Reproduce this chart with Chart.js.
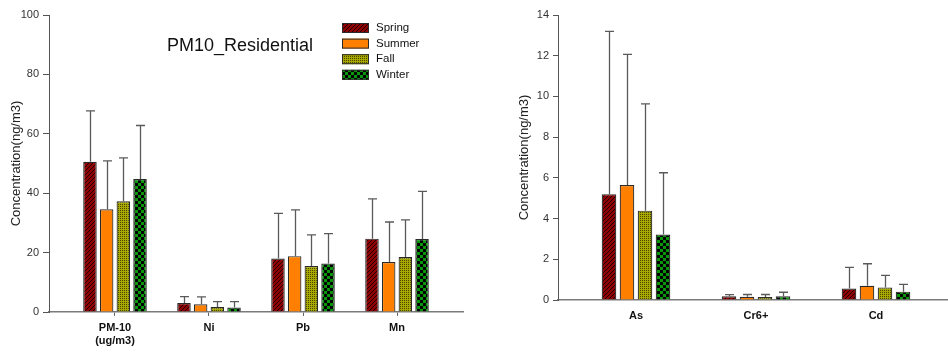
<!DOCTYPE html>
<html><head><meta charset="utf-8">
<script src="https://cdn.jsdelivr.net/npm/chart.js@4/dist/chart.umd.min.js"></script>
<style>
html,body{margin:0;padding:0;background:#fff;}
#wrap{position:relative;width:948px;height:352px;overflow:hidden;background:#fff;}
#c1box{position:absolute;left:0;top:0;width:480px;height:352px;}
#c2box{position:absolute;left:480px;top:0;width:468px;height:352px;}
</style></head><body>
<div id="wrap"><div id="c1box"><canvas id="c1" width="480" height="352"></canvas></div><div id="c2box"><canvas id="c2" width="468" height="352"></canvas></div></div>
<script>
// ---- data ----
const seasons = ['Spring', 'Summer', 'Fall', 'Winter'];

const pmCategories = ['PM-10\n(ug/m3)', 'Ni', 'Pb', 'Mn'];
const pmSpring   = [50.6, 3.0, 18.0, 24.7];
const pmSummer   = [34.6, 2.6, 18.8, 16.8];
const pmFall     = [37.3, 1.7, 15.5, 18.5];
const pmWinter   = [44.8, 1.5, 16.3, 24.6];
const pmSpringSD = [17.1, 2.2, 15.2, 13.4];
const pmSummerSD = [16.3, 2.5, 15.6, 13.5];
const pmFallSD   = [14.6, 1.8, 10.5, 12.5];
const pmWinterSD = [18.0, 2.0, 10.1, 16.0];
const pmYTicks   = [0, 20, 40, 60, 80, 100];

const trCategories = ['As', 'Cr6+', 'Cd'];
const trSpring   = [5.20, 0.18, 0.56];
const trSummer   = [5.65, 0.16, 0.70];
const trFall     = [4.39, 0.15, 0.62];
const trWinter   = [3.22, 0.18, 0.41];
const trSpringSD = [8.00, 0.08, 1.04];
const trSummerSD = [6.42, 0.11, 1.08];
const trFallSD   = [5.24, 0.12, 0.59];
const trWinterSD = [3.03, 0.20, 0.36];
const trYTicks   = [0, 2, 4, 6, 8, 10, 12, 14];

const chartTitle = 'PM10_Residential';
const yTitle = 'Concentration(ng/m3)';

// ---- styles ----
const FONT = '"Liberation Sans", Arial, sans-serif';
Chart.defaults.font.family = FONT;

function makePattern(w, h, draw) {
  const c = document.createElement('canvas');
  c.width = w; c.height = h;
  const g = c.getContext('2d');
  draw(g);
  return g.createPattern(c, 'repeat');
}
const fills = [
  makePattern(4, 4, g => { g.fillStyle = '#8e0404'; g.fillRect(0,0,4,4); g.fillStyle = '#220000'; for (let i=0;i<4;i++) g.fillRect(i, 3-i, 1, 1); }),
  '#ff8000',
  makePattern(2, 2, g => { g.fillStyle = '#a8a800'; g.fillRect(0,0,2,2); g.fillStyle = '#484800'; g.fillRect(0,0,1,1); }),
  makePattern(6, 6, g => { g.fillStyle = '#0a960a'; g.fillRect(0,0,6,6); g.fillStyle = '#000'; g.fillRect(0,0,3,3); g.fillRect(3,3,3,3); })
];

const toXY = arr => arr.map((v, i) => ({x: i, y: v}));

function buildDatasets(series, sds, catPct) {
  return series.map((s, k) => ({
    label: seasons[k],
    data: toXY(s),
    sd: sds[k],
    backgroundColor: fills[k],
    borderColor: '#2a2a2a',
    borderWidth: 1.2,
    categoryPercentage: catPct,
    barPercentage: 0.81
  }));
}

const errorBars = {
  id: 'errorBars',
  afterDatasetsDraw(chart) {
    const ctx = chart.ctx, ys = chart.scales.y;
    ctx.save();
    ctx.strokeStyle = '#5a5a5a';
    ctx.lineWidth = 1.3;
    chart.data.datasets.forEach((ds, di) => {
      const meta = chart.getDatasetMeta(di);
      meta.data.forEach((bar, i) => {
        const top = ys.getPixelForValue(ds.data[i].y + ds.sd[i]);
        const x = Math.round(bar.x) + 0.5;
        ctx.beginPath();
        ctx.moveTo(x, bar.y); ctx.lineTo(x, top);
        ctx.moveTo(x - 4.5, top); ctx.lineTo(x + 4.5, top);
        ctx.stroke();
      });
    });
    ctx.restore();
  }
};

const innerTitle = {
  id: 'innerTitle',
  afterDraw(chart) {
    const ctx = chart.ctx, a = chart.chartArea;
    ctx.save();
    ctx.font = '18px ' + FONT;
    ctx.fillStyle = '#111';
    ctx.textAlign = 'center';
    ctx.textBaseline = 'middle';
    ctx.fillText(chartTitle, a.left + 191, a.top + 31);
    ctx.restore();
  }
};

const innerLegend = {
  id: 'innerLegend',
  afterDraw(chart) {
    const ctx = chart.ctx, a = chart.chartArea;
    ctx.save();
    ctx.font = '11.5px ' + FONT;
    ctx.textBaseline = 'middle';
    ctx.textAlign = 'left';
    chart.data.datasets.forEach((ds, k) => {
      const cy = a.top + 13 + k * 15.6;
      const bx = a.left + 293;
      ctx.fillStyle = ds.backgroundColor;
      ctx.fillRect(bx, cy - 5, 27, 10);
      ctx.strokeStyle = '#2a2a2a';
      ctx.lineWidth = 1;
      ctx.strokeRect(bx + 0.5, cy - 4.5, 26, 9);
      ctx.fillStyle = '#111';
      ctx.fillText(ds.label, bx + 34, cy);
    });
    ctx.restore();
  }
};

function makeOptions(cfg) {
  return {
    responsive: false,
    animation: false,
    layout: { padding: cfg.padding },
    plugins: { legend: { display: false }, tooltip: { enabled: false }, title: { display: false } },
    scales: {
      x: {
        type: 'linear',
        min: cfg.xmin, max: cfg.xmax,
        offset: false,
        afterBuildTicks: s => { s.ticks = cfg.categories.map((c, i) => ({value: i})); },
        afterFit: s => { s.height = cfg.xHeight; },
        ticks: {
          autoSkip: false, maxRotation: 0, minRotation: 0,
          padding: cfg.xPad, color: '#111',
          font: { family: FONT, size: 11, weight: 'bold' },
          callback: v => (cfg.categories[v] !== undefined ? cfg.categories[v].split('\n') : '')
        },
        grid: { display: true, drawOnChartArea: false, drawTicks: cfg.xTicks, tickLength: 4, color: '#666', offset: false },
        border: { display: true, color: '#7a7a7a', width: 1.5 }
      },
      y: {
        min: cfg.yTicks[0], max: cfg.yTicks[cfg.yTicks.length - 1],
        afterBuildTicks: s => { s.ticks = cfg.yTicks.map(v => ({value: v})); },
        afterFit: s => { s.width = cfg.yWidth; },
        ticks: { padding: 4, color: '#333', font: { family: FONT, size: 11 } },
        grid: { display: true, drawOnChartArea: false, drawTicks: true, tickLength: cfg.yTickLen, color: '#555' },
        border: { display: true, color: '#555', width: 1 },
        title: { display: true, text: yTitle, color: '#222', font: { family: FONT, size: 13 }, padding: { top: cfg.titlePad, bottom: 0 } }
      }
    }
  };
}

new Chart(document.getElementById('c1'), {
  type: 'bar',
  data: { datasets: buildDatasets([pmSpring, pmSummer, pmFall, pmWinter], [pmSpringSD, pmSummerSD, pmFallSD, pmWinterSD], 0.71) },
  options: makeOptions({
    padding: { top: 15, right: 17, bottom: 0, left: 0 },
    categories: pmCategories, xmin: -0.702, xmax: 3.702,
    xHeight: 40, xPad: 5, xTicks: true,
    yTicks: pmYTicks, yWidth: 49, yTickLen: 6, titlePad: 9
  }),
  plugins: [errorBars, innerTitle, innerLegend]
});

new Chart(document.getElementById('c2'), {
  type: 'bar',
  data: { datasets: buildDatasets([trSpring, trSummer, trFall, trWinter], [trSpringSD, trSummerSD, trFallSD, trWinterSD], 0.6) },
  options: makeOptions({
    padding: { top: 15, right: 0, bottom: 0, left: 0 },
    categories: trCategories, xmin: -0.65, xmax: 2.6,
    xHeight: 52, xPad: 9, xTicks: false,
    yTicks: trYTicks, yWidth: 78, yTickLen: 5, titlePad: 37
  }),
  plugins: [errorBars]
});
</script>
</body></html>
